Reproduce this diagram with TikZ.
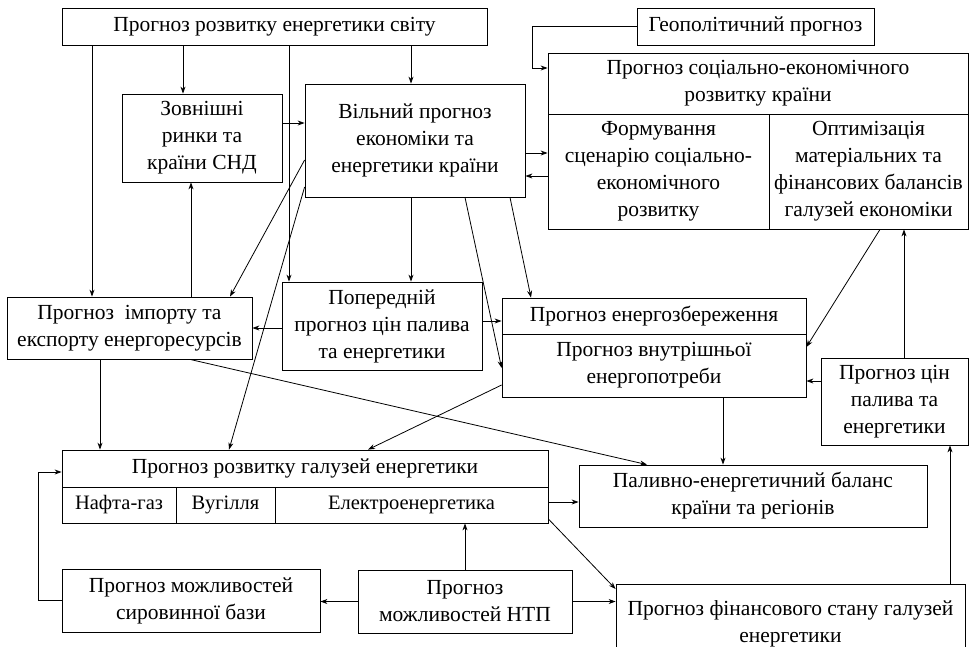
\documentclass[tikz,border=0pt]{standalone}
\usepackage{fontspec}
\setmainfont{Liberation Serif}
\newfontfamily\timesfont{Liberation Serif}
\usepackage{tikz}
\usetikzlibrary{shapes.geometric, arrows, arrows.meta, calc}
\tikzstyle{box} = [rectangle, draw=black, line width=0.8pt, inner sep=0pt, text centered, align=center, font=\timesfont\fontsize{21.5}{27}\selectfont]
\tikzstyle{cell} = [rectangle, draw=black, line width=0.8pt, inner sep=0pt, text centered, font=\timesfont\fontsize{20.5}{25}\selectfont]
\tikzstyle{arrow} = [line width=0.8pt, -{Stealth[length=7pt,width=5pt]}]

\begin{document}
\begin{tikzpicture}[x=1pt, y=-1pt]
		\useasboundingbox (0,0) rectangle (971,646);
		
		\node (world) [box, minimum width=425pt, minimum height=37pt] at (274.5,26.5) {Прогноз розвитку енергетики світу};
		\node (geo) [box, minimum width=237pt, minimum height=37pt] at (755.5,26.5) {Геополітичний прогноз};
		
		\node (soctitle) [box, minimum width=420pt, minimum height=61pt] at (758,83.5) {Прогноз соціально-економічного\\розвитку країни};
		\node (form) [box, minimum width=221pt, minimum height=115pt] at (658.5,171.5) {Формування\\сценарію соціально-\\економічного\\розвитку};
		\node (optim) [box, minimum width=199pt, minimum height=115pt] at (868.5,171.5) {Оптимізація\\матеріальних та\\фінансових балансів\\галузей економіки};
		
		\node (ext) [box, minimum width=160pt, minimum height=88pt] at (202,138) {Зовнішні\\ринки та\\країни СНД};
		\node (free) [box, minimum width=220pt, minimum height=113pt] at (415,140.5) {Вільний прогноз\\економіки та\\енергетики країни};
		
		\node (import) [box, minimum width=245pt, minimum height=62pt] at (129.5,328) {Прогноз\ \ імпорту та\\експорту енергоресурсів};
		\node (prelim) [box, minimum width=200pt, minimum height=88pt] at (382,326) {Попередній\\прогноз цін палива\\та енергетики};
		\node (save) [box, minimum width=304pt, minimum height=36pt] at (654,316) {Прогноз енергозбереження};
		\node (demand) [box, minimum width=304pt, minimum height=63pt] at (654,365.5) {Прогноз внутрішньої\\енергопотреби};
		\node (price) [box, minimum width=147pt, minimum height=87pt] at (894.5,401.5) {Прогноз цін\\палива та\\енергетики};
		
		\node (branch) [box, minimum width=486pt, minimum height=37pt] at (305,468.5) {Прогноз розвитку галузей енергетики};
		\node (oil) [cell, minimum width=114pt, minimum height=36pt] at (119,505) {Нафта-газ};
		\node (coal) [cell, minimum width=99pt, minimum height=36pt] at (225.5,505) {Вугілля};
		\node (elec) [cell, minimum width=273pt, minimum height=36pt] at (411.5,505) {Електроенергетика};
		\node (balance) [box, minimum width=348pt, minimum height=62pt] at (753,496) {Паливно-енергетичний баланс\\країни та регіонів};
		
		\node (raw) [box, minimum width=258pt, minimum height=63pt] at (191,600.5) {Прогноз можливостей\\сировинної бази};
		\node (ntp) [box, minimum width=214pt, minimum height=63pt] at (465,601.5) {Прогноз\\можливостей НТП};
		\node (fin) [box, minimum width=349pt, minimum height=80pt] at (790.5,624) {Прогноз фінансового стану галузей\\енергетики};
		
		\draw [arrow] (world.south -| 92,0) -- (import.north -| 92,0);
		\draw [arrow] (world.south -| 183,0) -- (ext.north -| 183,0);
		\draw [arrow] (world.south -| 289,0) -- (prelim.north -| 289,0);
		\draw [arrow] (world.south -| 411,0) -- (free.north -| 411,0);
		
		\draw [arrow] (geo.west) -- ++(-104,0) |- (soctitle.west |- 0,68);
		
		\draw [arrow] (ext.east |- 0,123) -- (free.west |- 0,123);
		\draw [arrow] (import.north -| 191,0) -- (ext.south -| 191,0);
		
		\draw [arrow] (free.west |- 0,160) -- (import.north -| 230,0);
		\draw [arrow] (free.west |- 0,187) -- (branch.north -| 229,0);
		\draw [arrow] (free.south -| 411,0) -- (prelim.north -| 411,0);
		\draw [arrow] (free.south -| 465,0) -- (demand.west |- 0,368);
		\draw [arrow] (free.south -| 510,0) -- (save.north -| 531,0);
		\draw [arrow] (free.east |- 0,153) -- (form.west |- 0,153);
		\draw [arrow] (form.west |- 0,176) -- (free.east |- 0,176);
		
		\draw [arrow] (prelim.west |- 0,328) -- (import.east |- 0,328);
		\draw [arrow] (prelim.east |- 0,321) -- (save.west |- 0,321);
		
		\draw [arrow] (optim.south -| 880,0) -- (demand.east |- 0,347);
		\draw [arrow] (price.west |- 0,381) -- (demand.east |- 0,381);
		\draw [arrow] (price.north -| 904,0) -- (optim.south -| 904,0);
		
		\draw [arrow] (demand.south -| 723,0) -- (balance.north -| 723,0);
		\draw [arrow] (demand.west |- 0,385) -- (branch.north -| 368,0);
		\draw [arrow] (import.south -| 100,0) -- (branch.north -| 100,0);
		\draw [arrow] (import.south -| 190,0) -- (balance.north -| 647,0);
		
		\draw [arrow] (elec.east |- 0,502) -- (balance.west |- 0,502);
		\draw [arrow] (elec.east |- 0,519) -- (fin.west |- 0,589);
		
		\draw [arrow] (ntp.north) -- (elec.south -| ntp.north);
		\draw [arrow] (ntp.west) -- (raw.east |- ntp.west);
		\draw [arrow] (ntp.east) -- (fin.west |- ntp.east);
		\draw [arrow] (raw.west) -- ++(-23,0) |- (branch.west |- 0,472);
		\draw [arrow] (fin.north -| 950,0) -- (price.south -| 950,0);
		
		\end{tikzpicture}
\end{document}
